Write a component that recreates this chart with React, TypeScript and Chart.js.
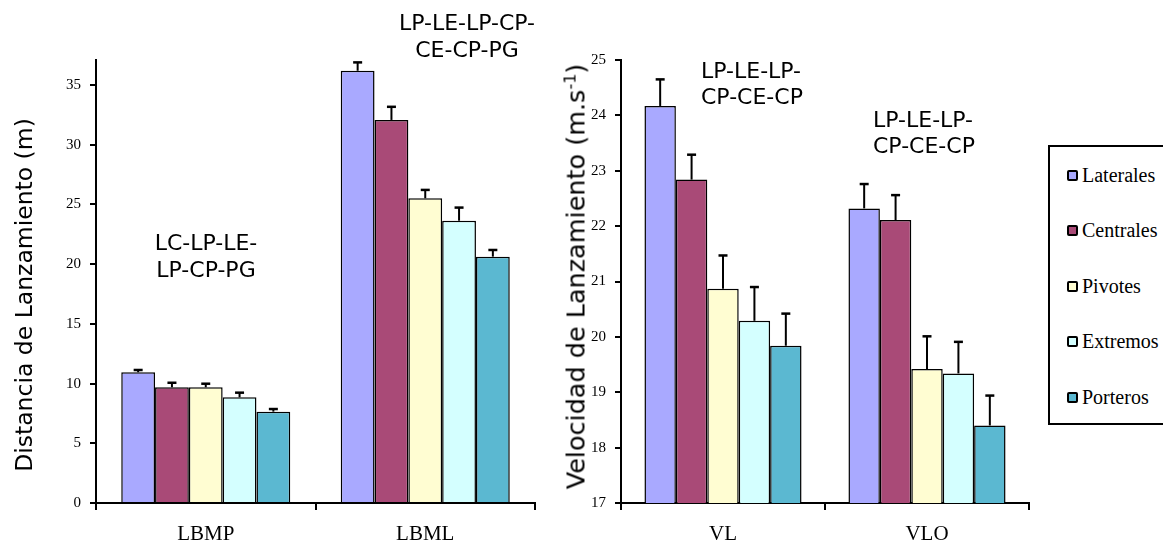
import React, { useEffect, useRef } from 'react';
import { Chart, registerables } from 'chart.js';

Chart.register(...registerables);

// ---------- data ----------
const seriesNames = ['Laterales', 'Centrales', 'Pivotes', 'Extremos', 'Porteros'];
const seriesColors = ['#A9A9FF', '#A94A77', '#FFFDD2', '#D4FFFF', '#5BB8D1'];

const distCategories = ['LBMP', 'LBML'];
const lbmpMeans = [10.95, 9.69, 9.69, 8.85, 7.65];
const lbmpErrors = [0.19, 0.38, 0.3, 0.39, 0.22];
const lbmlMeans = [36.2, 32.08, 25.52, 23.64, 20.63];
const lbmlErrors = [0.7, 1.1, 0.7, 1.1, 0.56];

const velCategories = ['VL', 'VLO'];
const vlMeans = [24.17, 22.84, 20.87, 20.29, 19.84];
const vlErrors = [0.48, 0.45, 0.6, 0.61, 0.58];
const vloMeans = [22.32, 22.11, 19.42, 19.34, 18.4];
const vloErrors = [0.44, 0.45, 0.59, 0.57, 0.54];

const distAxis = { min: 0, max: 37.1, step: 5 };
const velAxis = { min: 17, max: 25, step: 1 };

const distTitle = 'Distancia de Lanzamiento (m)';
const velTitleMain = 'Velocidad de Lanzamiento (m.s';
const velTitleSup = '-1';
const velTitleEnd = ')';

const annotDist1 = ['LC-LP-LE-', 'LP-CP-PG'];
const annotDist2 = ['LP-LE-LP-CP-', 'CE-CP-PG'];
const annotVel1 = ['LP-LE-LP-', 'CP-CE-CP'];
const annotVel2 = ['LP-LE-LP-', 'CP-CE-CP'];

const SERIF = '"Liberation Serif", "Times New Roman", serif';
const SANS = '"DejaVu Sans", Verdana, sans-serif';

function makeErrorBarPlugin(errorsByCategory: number[][]) {
  return {
    id: 'errorBars',
    afterDatasetsDraw(chart: any) {
      const ctx = chart.ctx;
      const yScale = chart.scales.y;
      chart.data.datasets.forEach((ds: any, di: number) => {
        const meta = chart.getDatasetMeta(di);
        meta.data.forEach((el: any, ci: number) => {
          const v = ds.data[ci];
          const e = errorsByCategory[ci][di];
          const yBase = yScale.getPixelForValue(v);
          const yTop = yScale.getPixelForValue(v + e);
          ctx.save();
          ctx.strokeStyle = '#000';
          ctx.lineWidth = 2;
          ctx.beginPath();
          ctx.moveTo(el.x, yBase);
          ctx.lineTo(el.x, yTop);
          ctx.stroke();
          ctx.lineWidth = 2.5;
          ctx.beginPath();
          ctx.moveTo(el.x - 4.5, yTop);
          ctx.lineTo(el.x + 4.5, yTop);
          ctx.stroke();
          ctx.restore();
        });
      });
    },
  };
}

type PanelProps = {
  left: number;
  width: number;
  categories: string[];
  meansByCategory: number[][];
  errorsByCategory: number[][];
  axis: { min: number; max: number; step: number };
  axisWidth: number;
  padRight: number;
  padTop: number;
};

function BarPanel(p: PanelProps) {
  const ref = useRef<HTMLCanvasElement>(null);
  useEffect(() => {
    const datasets = seriesNames.map((name, si) => ({
      label: name,
      data: p.categories.map((_, ci) => p.meansByCategory[ci][si]),
      backgroundColor: seriesColors[si],
      borderColor: '#000',
      borderWidth: 1.5,
      categoryPercentage: 0.77,
      barPercentage: 1,
    }));
    const chart = new Chart(ref.current as HTMLCanvasElement, {
      type: 'bar',
      data: { labels: p.categories, datasets },
      options: {
        responsive: false,
        animation: false,
        layout: { padding: { left: 0, right: p.padRight, top: p.padTop, bottom: 0 } },
        plugins: { legend: { display: false }, tooltip: { enabled: false } },
        scales: {
          x: {
            grid: {
              display: true,
              drawOnChartArea: false,
              drawTicks: true,
              tickLength: 7,
              color: '#000',
              lineWidth: 2,
              offset: true,
            },
            border: { display: true, color: '#000', width: 2 },
            ticks: { color: '#000', font: { family: SERIF, size: 21 }, padding: 12 },
            afterFit: (s: any) => {
              s.height = 40;
            },
          },
          y: {
            min: p.axis.min,
            max: p.axis.max,
            grid: {
              display: true,
              drawOnChartArea: false,
              drawTicks: true,
              tickLength: 6,
              color: '#000',
              lineWidth: 2,
            },
            border: { display: true, color: '#000', width: 2 },
            ticks: {
              stepSize: p.axis.step,
              includeBounds: false,
              color: '#000',
              font: { family: SERIF, size: 15 },
              padding: 9,
            },
            afterFit: (s: any) => {
              s.width = p.axisWidth;
            },
          },
        },
      } as any,
      plugins: [makeErrorBarPlugin(p.errorsByCategory)],
    });
    return () => chart.destroy();
  }, []);
  return (
    <canvas
      ref={ref}
      width={p.width}
      height={543}
      style={{ position: 'absolute', left: p.left, top: 0, width: p.width, height: 543 }}
    />
  );
}

function Annot({ lines, left, top, align, width }: { lines: string[]; left: number; top: number; align: 'left' | 'center'; width: number }) {
  return (
    <div
      style={{
        position: 'absolute',
        left,
        top,
        width,
        fontFamily: SANS,
        fontSize: 22,
        lineHeight: '26.5px',
        textAlign: align,
        color: '#000',
        whiteSpace: 'nowrap',
      }}
    >
      {lines.map((l, i) => (
        <div key={i}>{l}</div>
      ))}
    </div>
  );
}

export default function App() {
  return (
    <div
      style={{
        position: 'absolute',
        left: 0,
        top: 0,
        width: 1163,
        height: 543,
        overflow: 'hidden',
        background: '#fff',
      }}
    >
      <BarPanel
        left={0}
        width={560}
        categories={distCategories}
        meansByCategory={[lbmpMeans, lbmlMeans]}
        errorsByCategory={[lbmpErrors, lbmlErrors]}
        axis={distAxis}
        axisWidth={96}
        padRight={25}
        padTop={60}
      />
      <BarPanel
        left={540}
        width={500}
        categories={velCategories}
        meansByCategory={[vlMeans, vloMeans]}
        errorsByCategory={[vlErrors, vloErrors]}
        axis={velAxis}
        axisWidth={81}
        padRight={11}
        padTop={60}
      />

      {/* axis titles */}
      <div
        style={{
          position: 'absolute',
          left: 24 - 250,
          top: 295 - 14,
          width: 500,
          height: 28,
          lineHeight: '28px',
          fontFamily: SANS,
          fontSize: 23.5,
          textAlign: 'center',
          whiteSpace: 'nowrap',
          transform: 'rotate(-90deg)',
          color: '#000',
        }}
      >
        {distTitle}
      </div>
      <div
        style={{
          position: 'absolute',
          left: 576 - 260,
          top: 276 - 15.5,
          width: 520,
          height: 31,
          lineHeight: '31px',
          fontFamily: SANS,
          fontSize: 25.5,
          textAlign: 'center',
          whiteSpace: 'nowrap',
          transform: 'rotate(-90deg)',
          color: '#000',
        }}
      >
        {velTitleMain}
        <sup style={{ fontSize: 16, lineHeight: 0, verticalAlign: 'super' }}>{velTitleSup}</sup>
        {velTitleEnd}
      </div>

      {/* annotations */}
      <Annot lines={annotDist1} left={206 - 100} top={230} align="center" width={200} />
      <Annot lines={annotDist2} left={467 - 100} top={10} align="center" width={200} />
      <Annot lines={annotVel1} left={701} top={57.5} align="left" width={150} />
      <Annot lines={annotVel2} left={873} top={106.5} align="left" width={150} />

      {/* legend */}
      <div
        style={{
          position: 'absolute',
          left: 1048,
          top: 145,
          width: 140,
          height: 280,
          border: '2px solid #000',
          boxSizing: 'border-box',
          background: '#fff',
        }}
      >
        {seriesNames.map((name, i) => (
          <div
            key={name}
            style={{
              position: 'absolute',
              left: 17,
              top: 175 - 145 - 2 - 12 + i * 55.5,
              height: 24,
              display: 'flex',
              alignItems: 'center',
              whiteSpace: 'nowrap',
            }}
          >
            <span
              style={{
                display: 'inline-block',
                width: 11,
                height: 11,
                boxSizing: 'border-box',
                border: '2px solid #000',
                borderRadius: 2,
                background: seriesColors[i],
                marginRight: 4,
              }}
            />
            <span style={{ fontFamily: SERIF, fontSize: 20, color: '#000' }}>{name}</span>
          </div>
        ))}
      </div>
    </div>
  );
}
